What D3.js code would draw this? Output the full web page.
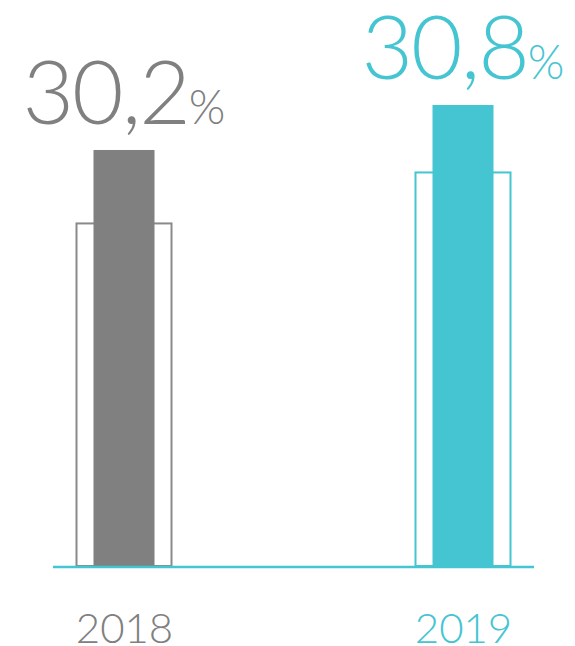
<!DOCTYPE html>
<html>
<head>
<meta charset="utf-8">
<script src="https://cdn.jsdelivr.net/npm/d3@7"></script>
<style>
  html, body { margin: 0; padding: 0; background: #fff; }
  svg { display: block; }
  text { font-family: "Lato", "Open Sans", "DejaVu Sans", sans-serif; font-weight: 300; }
</style>
</head>
<body>
<svg id="chart" width="575" height="646"></svg>
<script>
// Data
const years = ["2018", "2019"];
const mainValues = [30.2, 30.8];          // filled bars (labelled)
const refValues = [29.22, 29.9];          // outlined bars behind (estimated)
const valueLabels = ["30,2", "30,8"];
const yearColors = ["#808080", "#45c5d1"];

const svg = d3.select("#chart");

const x = d3.scalePoint().domain(years).range([124, 463]);
const y = d3.scaleLinear().domain([24.65, 30.8]).range([566, 105]);

const outerW = 95, innerW = 61;

// Outline bars
svg.selectAll("rect.ref").data(years).join("rect")
  .attr("class", "ref")
  .attr("x", d => x(d) - outerW / 2)
  .attr("width", outerW)
  .attr("y", (d, i) => y(refValues[i]))
  .attr("height", (d, i) => y.range()[0] - y(refValues[i]))
  .attr("fill", "#fff")
  .attr("stroke", (d, i) => i === 0 ? "#8a8a8a" : yearColors[i])
  .attr("stroke-width", 2);

// Filled bars
svg.selectAll("rect.main").data(years).join("rect")
  .attr("class", "main")
  .attr("x", d => x(d) - innerW / 2)
  .attr("width", innerW)
  .attr("y", (d, i) => y(mainValues[i]))
  .attr("height", (d, i) => y.range()[0] - y(mainValues[i]))
  .attr("fill", (d, i) => yearColors[i]);

// Baseline
svg.append("line")
  .attr("x1", 53).attr("x2", 534)
  .attr("y1", y.range()[0] + 1).attr("y2", y.range()[0] + 1)
  .attr("stroke", "#45c5d1").attr("stroke-width", 2.5);

// Value labels
const lbl = svg.selectAll("text.val").data(years).join("text")
  .attr("class", "val")
  .attr("x", d => x(d))
  .attr("y", (d, i) => y(mainValues[i]) - 26)
  .attr("text-anchor", "middle")
  .attr("fill", (d, i) => yearColors[i]);
lbl.append("tspan").attr("font-size", 89).attr("letter-spacing", -2).text((d, i) => valueLabels[i]);
lbl.append("tspan").attr("font-size", 47).attr("dx", 0).text("%");

// Year axis labels
const xAxis = d3.axisBottom(x).tickSize(0).tickPadding(0);
const ax = svg.append("g").attr("transform", `translate(0, ${y.range()[0]})`).call(xAxis);
ax.select(".domain").remove();
ax.selectAll(".tick text")
  .attr("y", 77)
  .attr("dy", 0)
  .attr("font-size", 42)
  .attr("font-family", "Lato, 'Open Sans', sans-serif")
  .attr("font-weight", 300)
  .attr("fill", (d, i) => yearColors[i]);
</script>
</body>
</html>
